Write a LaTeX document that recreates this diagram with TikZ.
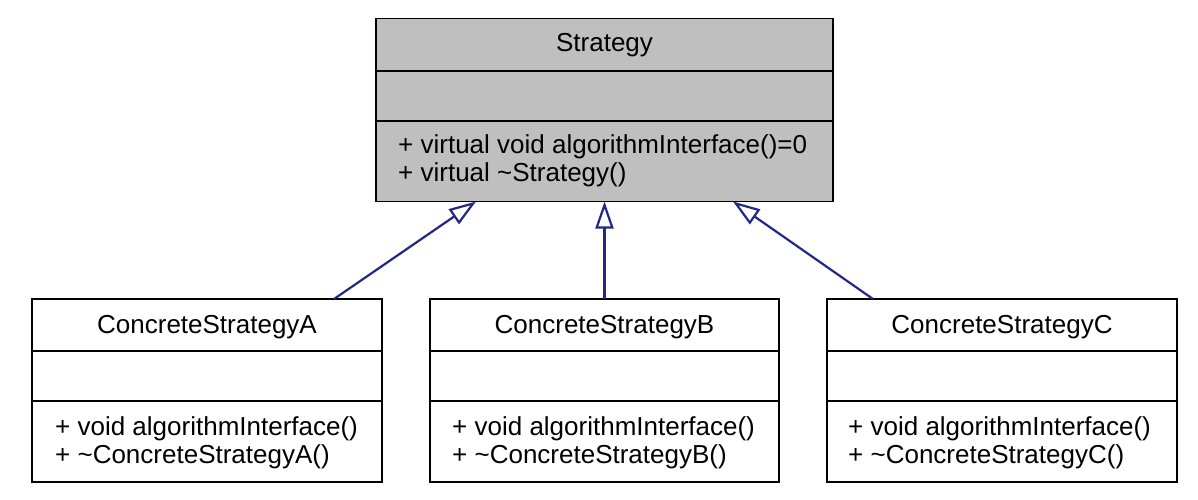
\documentclass[tikz,border=0pt]{standalone}
\usepackage{fontspec}
\setmainfont{Liberation Sans}
\usetikzlibrary{arrows.meta}
\definecolor{boxgray}{RGB}{191,191,191}
\definecolor{edgeblue}{RGB}{35,40,135}
\tikzset{
  classbox/.style={draw=black, line width=1.9pt, inner sep=0pt, outer sep=0pt, minimum height=183pt},
  divider/.style={draw=black, line width=1.9pt},
  title/.style={anchor=base, inner sep=0pt, font=\fontsize{26pt}{28pt}\selectfont},
  member/.style={anchor=base west, inner sep=0pt, font=\fontsize{26pt}{28pt}\selectfont},
  inh/.style={draw=edgeblue, line width=2.2pt, -{Triangle[open, length=27pt, width=18pt, fill=white]}}
}
\begin{document}
\begin{tikzpicture}[x=1pt, y=-1pt]
\useasboundingbox (0,0) rectangle (1198,500);
% Strategy
\node[classbox, fill=boxgray, minimum width=457pt] (S) at (604.5,110) {};
\draw[divider] (S.west |- 0,71) -- (S.east |- 0,71);
\draw[divider] (S.west |- 0,121) -- (S.east |- 0,121);
\node[title] (St) at (604.5,52) {Strategy};
\node[member] (Sm1) at (398,153) {+ virtual void algorithmInterface()=0};
\node[member] (Sm2) at (398,181) {+ virtual \textasciitilde Strategy()};
% A
\node[classbox, fill=white, minimum width=350pt] (A) at (207,390.5) {};
\draw[divider] (A.west |- 0,351) -- (A.east |- 0,351);
\draw[divider] (A.west |- 0,401) -- (A.east |- 0,401);
\node[title] (At) at (207,333) {ConcreteStrategyA};
\node[member] (Am1) at (55,435) {+ void algorithmInterface()};
\node[member] (Am2) at (55,463) {+ \textasciitilde ConcreteStrategyA()};
% B
\node[classbox, fill=white, minimum width=349pt] (B) at (604.5,390.5) {};
\draw[divider] (B.west |- 0,351) -- (B.east |- 0,351);
\draw[divider] (B.west |- 0,401) -- (B.east |- 0,401);
\node[title] (Bt) at (604.5,333) {ConcreteStrategyB};
\node[member] (Bm1) at (452,435) {+ void algorithmInterface()};
\node[member] (Bm2) at (452,463) {+ \textasciitilde ConcreteStrategyB()};
% C
\node[classbox, fill=white, minimum width=350pt] (C) at (1002,390.5) {};
\draw[divider] (C.west |- 0,351) -- (C.east |- 0,351);
\draw[divider] (C.west |- 0,401) -- (C.east |- 0,401);
\node[title] (Ct) at (1002,333) {ConcreteStrategyC};
\node[member] (Cm1) at (848,435) {+ void algorithmInterface()};
\node[member] (Cm2) at (848,463) {+ \textasciitilde ConcreteStrategyC()};
% connectors
\coordinate (a1) at (334,299);
\coordinate (a2) at (476,201);
\coordinate (c1) at (873,299);
\coordinate (c2) at (733,201);
\draw[inh] (A.north -| a1) -- (S.south -| a2);
\draw[inh] (B.north) -- (S.south);
\draw[inh] (C.north -| c1) -- (S.south -| c2);
\end{tikzpicture}
\end{document}
